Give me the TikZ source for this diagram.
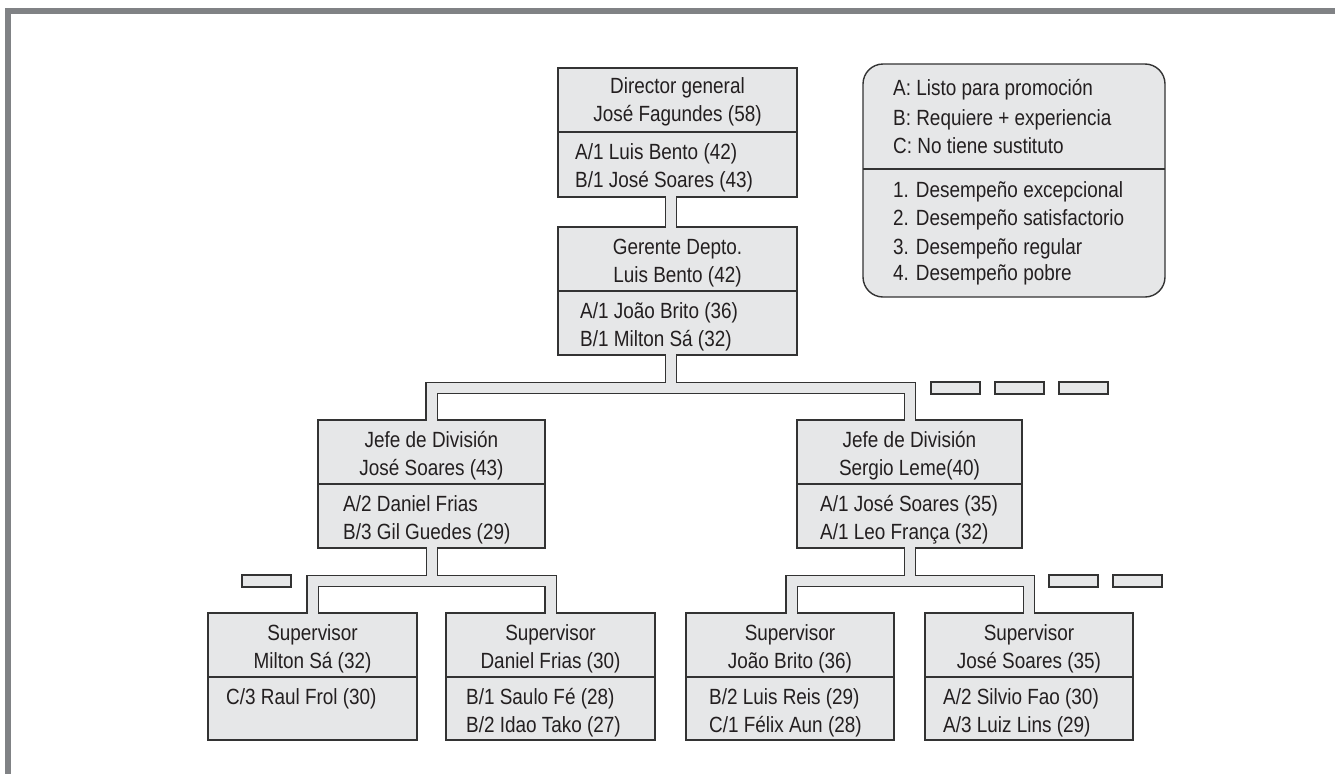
\documentclass[tikz,border=0pt]{standalone}
\usepackage{fontspec}
\setmainfont{Liberation Sans}[FakeStretch=0.86]
\definecolor{ink}{HTML}{231F20}
\definecolor{boxfill}{HTML}{E6E7E8}
\definecolor{framegray}{HTML}{808285}
\definecolor{edge}{HTML}{333333}
\newcommand\toptext[3]{%
  \node[lbl,anchor=base] (#1-a) at ([yshift=-27pt]#1.north) {#2};
  \node[lbl,anchor=base] (#1-b) at ([yshift=-55.5pt]#1.north) {#3};}
\newcommand\lowtext[4]{%
  \node[lbl,anchor=base west] (#1-a) at ([xshift=#2pt,yshift=-27pt]#1.north west) {#3};
  \node[lbl,anchor=base west] (#1-b) at ([xshift=#2pt,yshift=-55.5pt]#1.north west) {#4};}
\begin{document}
\begin{tikzpicture}[x=1pt,y=-1pt,
  part/.style={draw=edge, fill=boxfill, line width=1.4pt, inner sep=0pt, outer sep=0pt, anchor=north west},
  lbl/.style={text=ink, inner sep=0pt, font=\fontsize{22}{29}\selectfont},
  barout/.style={draw=edge, line width=12.8pt, line join=miter},
  barfill/.style={draw=boxfill, line width=10pt, line join=miter, shorten <=-1.2pt, shorten >=-1.2pt},
  dashbox/.style={part, minimum width=49pt, minimum height=12pt},
]
\useasboundingbox (0,0) rectangle (1335,774);
% frame
\fill[framegray] (5,8) rectangle (1335,14);
\fill[framegray] (5,8) rectangle (11,774);

% boxes
\node[part, minimum width=239pt, minimum height=64pt] (dirT) at (558,68) {};
\node[part, minimum width=239pt, minimum height=65pt] (dirB) at (558,132) {};
\node[part, minimum width=239pt, minimum height=64pt] (gerT) at (558,227) {};
\node[part, minimum width=239pt, minimum height=64pt] (gerB) at (558,291) {};
\node[part, minimum width=227pt, minimum height=64pt] (jefLT) at (318,420) {};
\node[part, minimum width=227pt, minimum height=64pt] (jefLB) at (318,484) {};
\node[part, minimum width=225pt, minimum height=64pt] (jefRT) at (797,420) {};
\node[part, minimum width=225pt, minimum height=64pt] (jefRB) at (797,484) {};
\node[part, minimum width=209pt, minimum height=64pt] (supMT) at (208,613) {};
\node[part, minimum width=209pt, minimum height=63pt] (supMB) at (208,677) {};
\node[part, minimum width=209pt, minimum height=64pt] (supDT) at (446,613) {};
\node[part, minimum width=209pt, minimum height=63pt] (supDB) at (446,677) {};
\node[part, minimum width=208pt, minimum height=64pt] (supJT) at (686,613) {};
\node[part, minimum width=208pt, minimum height=63pt] (supJB) at (686,677) {};
\node[part, minimum width=208pt, minimum height=64pt] (supST) at (925,613) {};
\node[part, minimum width=208pt, minimum height=63pt] (supSB) at (925,677) {};

% legend
\node[part, rounded corners=20pt, minimum width=302pt, minimum height=233pt] (leg) at (863,64) {};
\coordinate (legdiv) at (0,169);
\draw[draw=edge, line width=1.4pt] (leg.west |- legdiv) -- (leg.east |- legdiv);

% dashes (continuation marks)
\node[dashbox] (d1) at (931,382) {};
\node[dashbox] (d2) at (995,382) {};
\node[dashbox] (d3) at (1059,382) {};
\node[dashbox] (d4) at (242,575) {};
\node[dashbox] (d5) at (1049,575) {};
\node[dashbox] (d6) at (1113,575) {};

% connector junctions
\coordinate (c0) at (671,0);
\coordinate (c1) at (671,388);
\coordinate (c1L) at (431.5,388);
\coordinate (c1R) at (910,388);
\coordinate (c2) at (432,581);
\coordinate (c2L) at (312.5,581);
\coordinate (c2R) at (550.5,581);
\coordinate (c3) at (910,581);
\coordinate (c3L) at (791.5,581);
\coordinate (c3R) at (1029,581);

% bar outlines
\draw[barout] (dirB.south -| c0) -- (gerT.north -| c0);
\draw[barout] (gerB.south -| c1) -- (c1);
\draw[barout] (jefLT.north -| c1L) -- (c1L) -- (c1R) -- (jefRT.north -| c1R);
\draw[barout] (jefLB.south -| c2) -- (c2);
\draw[barout] (supMT.north -| c2L) -- (c2L) -- (c2R) -- (supDT.north -| c2R);
\draw[barout] (jefRB.south -| c3) -- (c3);
\draw[barout] (supJT.north -| c3L) -- (c3L) -- (c3R) -- (supST.north -| c3R);
% bar fills
\draw[barfill] (dirB.south -| c0) -- (gerT.north -| c0);
\draw[barfill] (gerB.south -| c1) -- (c1);
\draw[barfill] (jefLT.north -| c1L) -- (c1L) -- (c1R) -- (jefRT.north -| c1R);
\draw[barfill] (jefLB.south -| c2) -- (c2);
\draw[barfill] (supMT.north -| c2L) -- (c2L) -- (c2R) -- (supDT.north -| c2R);
\draw[barfill] (jefRB.south -| c3) -- (c3);
\draw[barfill] (supJT.north -| c3L) -- (c3L) -- (c3R) -- (supST.north -| c3R);

% texts
\node[lbl,anchor=base] (dirT-a) at ([yshift=-25pt]dirT.north) {Director general};
\node[lbl,anchor=base] (dirT-b) at ([yshift=-53.5pt]dirT.north) {José Fagundes (58)};
\lowtext{dirB}{17}{A/1 Luis Bento (42)}{B/1 José Soares (43)}
\toptext{gerT}{Gerente Depto.}{Luis Bento (42)}
\lowtext{gerB}{22}{A/1 João Brito (36)}{B/1 Milton Sá (32)}
\toptext{jefLT}{Jefe de División}{José Soares (43)}
\lowtext{jefLB}{25}{A/2 Daniel Frias}{B/3 Gil Guedes (29)}
\toptext{jefRT}{Jefe de División}{Sergio Leme(40)}
\lowtext{jefRB}{23}{A/1 José Soares (35)}{A/1 Leo França (32)}
\toptext{supMT}{Supervisor}{Milton Sá (32)}
\node[lbl,anchor=base west] (supMB-a) at ([xshift=18pt,yshift=-27pt]supMB.north west) {C/3 Raul Frol (30)};
\toptext{supDT}{Supervisor}{Daniel Frias (30)}
\lowtext{supDB}{20}{B/1 Saulo Fé (28)}{B/2 Idao Tako (27)}
\toptext{supJT}{Supervisor}{João Brito (36)}
\lowtext{supJB}{23}{B/2 Luis Reis (29)}{C/1 Félix Aun (28)}
\toptext{supST}{Supervisor}{José Soares (35)}
\lowtext{supSB}{18}{A/2 Silvio Fao (30)}{A/3 Luiz Lins (29)}

% legend texts
\node[lbl,anchor=base west] (l1) at (893,95.5) {A: Listo para promoción};
\node[lbl,anchor=base west] (l2) at (893,125) {B: Requiere + experiencia};
\node[lbl,anchor=base west] (l3) at (893,153.5) {C: No tiene sustituto};
\node[lbl,anchor=base west] (l4) at (893,197.5) {1. Desempeño excepcional};
\node[lbl,anchor=base west] (l5) at (893,225.5) {2. Desempeño satisfactorio};
\node[lbl,anchor=base west] (l6) at (893,254) {3. Desempeño regular};
\node[lbl,anchor=base west] (l7) at (893,280.5) {4. Desempeño pobre};
\end{tikzpicture}
\end{document}
